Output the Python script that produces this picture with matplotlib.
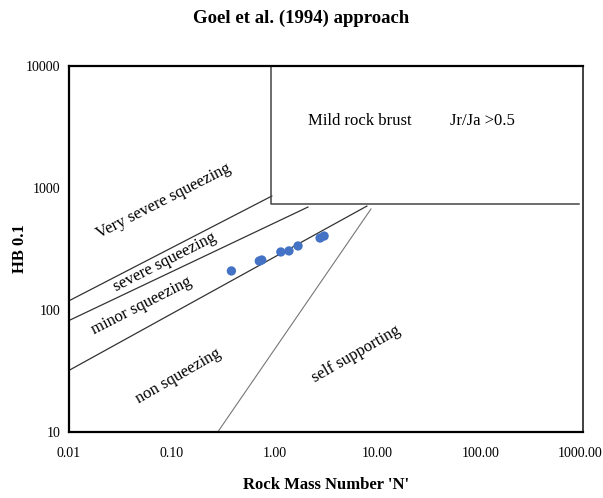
import matplotlib
matplotlib.use("Agg")
import matplotlib.pyplot as plt
from matplotlib.transforms import ScaledTranslation

plt.rcParams['font.family'] = ['Liberation Serif', 'DejaVu Serif']

# measured points (Rock Mass Number N vs H B^0.1)
rock_mass_n = [0.38, 0.71, 0.75, 1.15, 1.38, 1.69, 2.77, 3.03]
hb_01 = [209, 252, 257, 299, 305, 335, 389, 404]

# boundary lines of Goel et al. (1994) chart
very_severe_n = [0.01, 0.94]
very_severe_h = [119, 859]
severe_n = [0.01, 2.11]
severe_h = [82, 698]
minor_n = [0.01, 7.9]
minor_h = [32, 711]
self_support_n = [0.28, 8.66]
self_support_h = [10, 673]

# rock burst box
burst_n = [0.92, 0.92, 914]
burst_h = [10000, 740, 740]

x_ticks = [0.01, 0.1, 1, 10, 100, 1000]
x_labels = ['0.01', '0.10', '1.00', '10.00', '100.00', '1000.00']
y_ticks = [10, 100, 1000, 10000]
y_labels = ['10', '100', '1000', '10000']

fig = plt.figure(figsize=(6.03, 4.98), dpi=100)
ax = fig.add_axes([69 / 603, 66 / 498, 514 / 603, 366 / 498])
ax.set_xscale('log')
ax.set_yscale('log')
ax.set_xlim(0.01, 1000)
ax.set_ylim(10, 10000)

ax.plot(very_severe_n, very_severe_h, color='#333333', lw=0.9)
ax.plot(severe_n, severe_h, color='#333333', lw=0.9)
ax.plot(minor_n, minor_h, color='#333333', lw=0.9)
ax.plot(self_support_n, self_support_h, color='#777777', lw=0.8)
ax.plot(burst_n, burst_h, color='#444444', lw=1.1)

ax.scatter(rock_mass_n, hb_01, s=45, color='#4472C4', zorder=3, edgecolors='none')

# zone labels
ax.text(0.084, 782, 'Very severe squeezing', rotation=27, ha='center', va='center', fontsize=12)
ax.text(0.086, 247, 'severe squeezing', rotation=27, ha='center', va='center', fontsize=12)
ax.text(0.051, 108, 'minor squeezing', rotation=27, ha='center', va='center', fontsize=12)
ax.text(0.116, 28.8, 'non squeezing', rotation=30, ha='center', va='center', fontsize=12)
ax.text(6.2, 43.6, 'self supporting', rotation=30, ha='center', va='center', fontsize=12)
ax.text(6.78, 3540, 'Mild rock brust', ha='center', va='center', fontsize=12)
ax.text(105, 3540, 'Jr/Ja >0.5', ha='center', va='center', fontsize=12)

ax.set_xticks(x_ticks)
ax.set_xticklabels(x_labels)
ax.set_yticks(y_ticks)
ax.set_yticklabels(y_labels)
ax.minorticks_off()
ax.tick_params(length=0, labelsize=10, pad=11)
ax.tick_params(axis='y', pad=6)

# keep the last x label inside the figure
last = ax.get_xticklabels()[-1]
last.set_transform(last.get_transform() + ScaledTranslation(-3 / 100, 0, fig.dpi_scale_trans))

for side in ['left', 'bottom', 'top']:
    ax.spines[side].set_linewidth(1.6)
    ax.spines[side].set_color('black')
ax.spines['right'].set_linewidth(1.3)
ax.spines['right'].set_color('#333333')

ax.set_xlabel("Rock Mass Number 'N'", fontsize=12, fontweight='bold', labelpad=12)
ax.set_ylabel('HB 0.1', fontsize=12, fontweight='bold')
ax.yaxis.set_label_coords(-0.08, 0.5)
fig.text(0.5, 1 - 18 / 498, 'Goel et al. (1994) approach', ha='center', va='center',
         fontsize=13.5, fontweight='bold')

fig.savefig('out.png', dpi=100)
